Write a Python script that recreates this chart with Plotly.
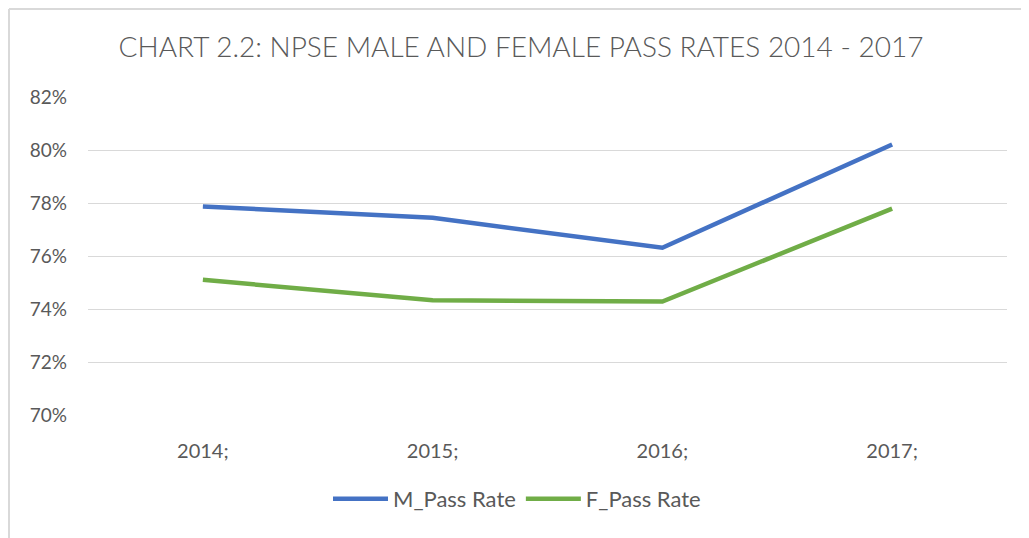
import plotly.graph_objects as go

years = ["2014;", "2015;", "2016;", "2017;"]
male_pass = [0.7787, 0.7744, 0.7631, 0.8021]
female_pass = [0.7510, 0.7433, 0.7428, 0.7779]
y_ticks = [0.70, 0.72, 0.74, 0.76, 0.78, 0.80, 0.82]

# page body has an 8px margin; work in screenshot pixels and convert
OFF = 8
W, H = 1029 - OFF, 538 - OFF
PX0, PX1, PY0, PY1 = 88, 1007, 97, 415  # plot area in screenshot pixels
L, R = PX0 - OFF, W - (PX1 - OFF)
T, B = PY0 - OFF, H - (PY1 - OFF)
pw, ph = W - L - R, H - T - B

def px_x(x):
    return (x - OFF - L) / pw

def px_y(y):
    return (H - B - (y - OFF)) / ph

fig = go.Figure()
fig.add_trace(go.Scatter(x=years, y=male_pass, mode="lines", name="M_Pass Rate",
                         line=dict(color="#4472C4", width=4.5)))
fig.add_trace(go.Scatter(x=years, y=female_pass, mode="lines", name="F_Pass Rate",
                         line=dict(color="#70AD47", width=4.5)))

# chart border (left and top visible)
fig.add_shape(type="line", xref="paper", yref="paper",
              x0=px_x(9), x1=px_x(1040), y0=px_y(9), y1=px_y(9),
              line=dict(color="#D9D9D9", width=2))
fig.add_shape(type="line", xref="paper", yref="paper",
              x0=px_x(9), x1=px_x(9), y0=px_y(9), y1=px_y(560),
              line=dict(color="#D9D9D9", width=2))

fig.update_layout(
    width=W, height=H,
    margin=dict(l=L, r=R, t=T, b=B, pad=0),
    paper_bgcolor="white", plot_bgcolor="white",
    font=dict(family="Lato", color="#595959", size=19),
    title=dict(text="CHART 2.2: NPSE MALE AND FEMALE PASS RATES 2014 - 2017",
               x=px_x(521), xanchor="center", xref="paper",
               y=1 - (47 - OFF) / H, yanchor="middle",
               font=dict(family="Lato", size=28, color="#595959", weight=300)),
    xaxis=dict(type="category", range=[-0.5, 3.5], showgrid=False, showline=False,
               zeroline=False, ticks="", ticklabelstandoff=22,
               tickfont=dict(size=20, color="#595959")),
    yaxis=dict(range=[0.70, 0.82], tickvals=y_ticks, tickformat=".0%",
               showgrid=True, gridcolor="#D9D9D9", gridwidth=1.3,
               zeroline=False, showline=False, ticks="", ticklabelstandoff=20,
               tickfont=dict(size=19, color="#595959")),
    legend=dict(orientation="h", x=px_x(517), xanchor="center",
                y=px_y(499), yanchor="middle", itemwidth=55,
                font=dict(size=22, color="#595959"), tracegroupgap=0),
    showlegend=True,
)

fig.write_html("out.html")
